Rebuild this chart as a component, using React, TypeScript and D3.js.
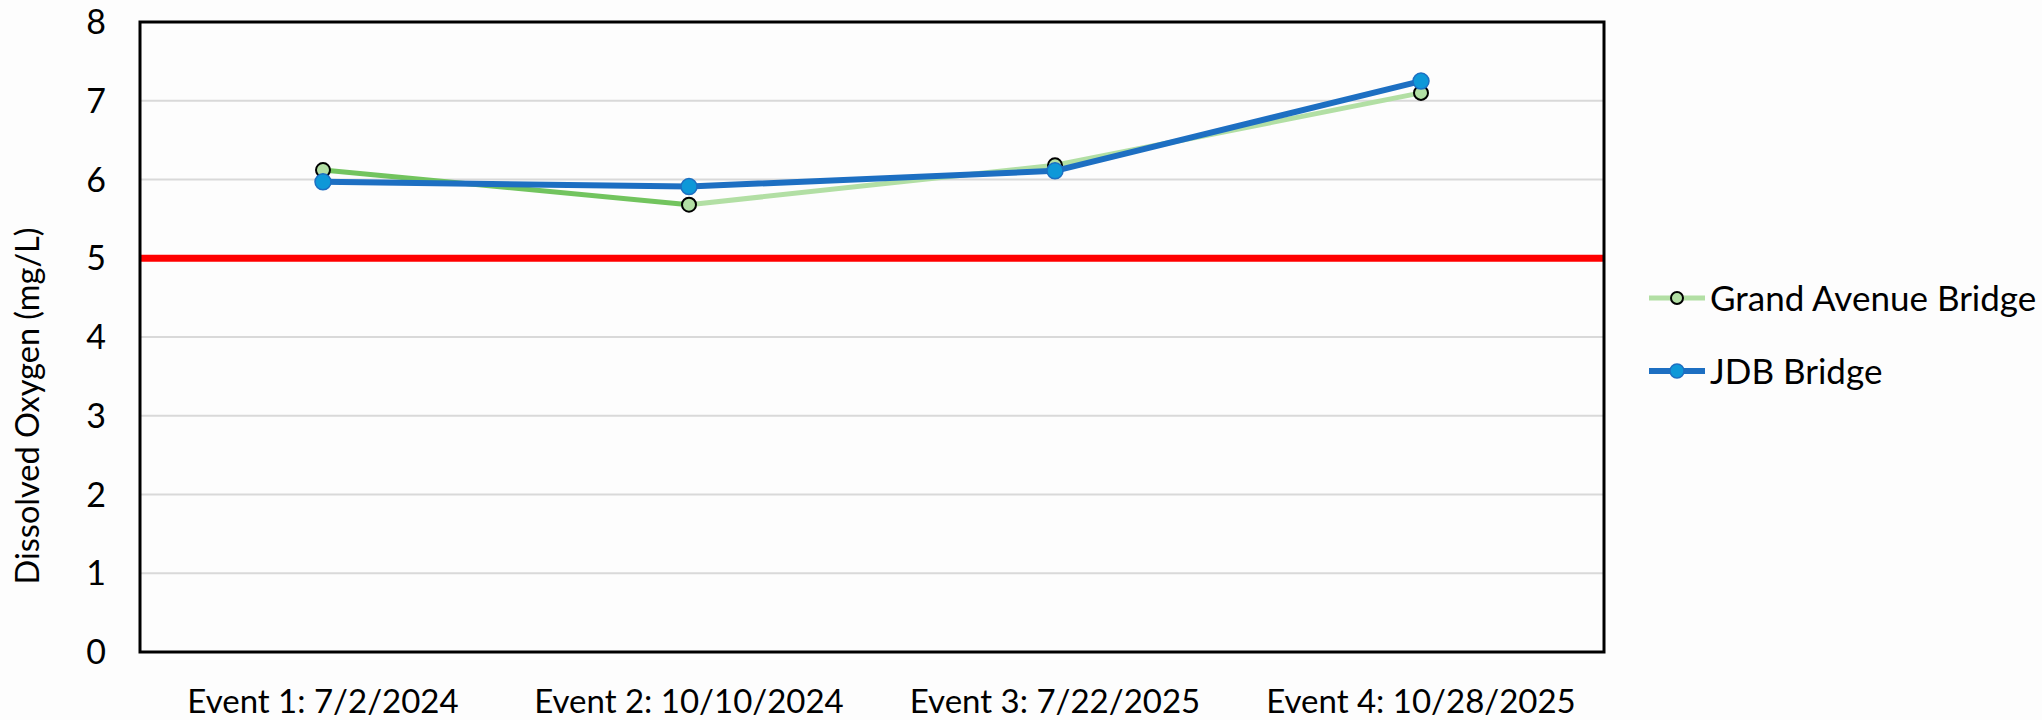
import React from "react"
import * as d3 from "d3"

// sampling events and measured DO (mg/L)
const events = ["Event 1: 7/2/2024", "Event 2: 10/10/2024", "Event 3: 7/22/2025", "Event 4: 10/28/2025"]
const grandAvenue = [6.12, 5.68, 6.18, 7.1]
const jdbBridge = [5.97, 5.91, 6.11, 7.25]
const yTicks = [0, 1, 2, 3, 4, 5, 6, 7, 8]
const standard = 5
const seriesNames = ["Grand Avenue Bridge", "JDB Bridge"]

const W = 2042
const H = 720
const margin = { top: 22, right: 438, bottom: 68, left: 140 }
const FONT = "Lato, 'Open Sans', sans-serif"

const greenLight = "#b2dfa4"
const greenDark = "#72c45e"
const blue = "#1d6fc2"
const blueFill = "#0e98d8"

export default function App() {
  const x = d3
    .scalePoint<string>()
    .domain(events)
    .range([margin.left, W - margin.right])
    .padding(0.5)
  const y = d3.scaleLinear().domain([0, 8]).range([H - margin.bottom, margin.top])

  const line = d3
    .line<number>()
    .x((_, i) => x(events[i]) as number)
    .y(d => y(d))

  // grand avenue segments, first segment drawn darker like the original
  const grandSegs = grandAvenue.slice(1).map((v, i) => {
    const a = x(events[i]) as number
    const b = x(events[i + 1]) as number
    return {
      d: d3.line<[number, number]>()([[a, y(grandAvenue[i])], [b, y(v)]]),
      color: i === 0 ? greenDark : greenLight
    }
  })

  const legendX = 1649
  const legendY = [298, 371]

  return (
    <svg width={W} height={H} style={{ position: "absolute", left: 0, top: 0, background: "#fdfdfd" }}>
      <rect x={0} y={0} width={W} height={H} fill="#fdfdfd" />
      {yTicks.slice(1, -1).map(t => (
        <line key={t} x1={margin.left} x2={W - margin.right} y1={y(t)} y2={y(t)} stroke="#d9d9d9" strokeWidth={2} />
      ))}
      <line x1={margin.left} x2={W - margin.right} y1={y(standard)} y2={y(standard)} stroke="#ff0000" strokeWidth={7} />
      {yTicks.map(t => (
        <text key={t} x={106} y={y(t)} dy="0.36em" textAnchor="end" fontFamily={FONT} fontSize={34} fill="#000">
          {t}
        </text>
      ))}
      {events.map(e => (
        <text key={e} x={x(e)} y={713} textAnchor="middle" fontFamily={FONT} fontSize={33} fill="#000">
          {e}
        </text>
      ))}
      <text
        transform={`translate(39,${406}) rotate(-90)`}
        textAnchor="middle"
        fontFamily={FONT}
        fontSize={32.5}
        fill="#000"
      >
        Dissolved Oxygen (mg/L)
      </text>

      {/* Grand Avenue Bridge */}
      {grandSegs.map((s, i) => (
        <path key={i} d={s.d || ""} fill="none" stroke={s.color} strokeWidth={5} strokeLinecap="round" />
      ))}
      {grandAvenue.map((v, i) => (
        <circle key={i} cx={x(events[i])} cy={y(v)} r={7} fill={greenLight} stroke="#000" strokeWidth={2} />
      ))}

      {/* JDB Bridge */}
      <path d={line(jdbBridge) || ""} fill="none" stroke={blue} strokeWidth={6} strokeLinejoin="round" />
      {jdbBridge.map((v, i) => (
        <circle key={i} cx={x(events[i])} cy={y(v)} r={8} fill={blueFill} stroke={blue} strokeWidth={1.5} />
      ))}

      <rect
        x={margin.left}
        y={margin.top}
        width={W - margin.right - margin.left}
        height={H - margin.bottom - margin.top}
        fill="none"
        stroke="#000"
        strokeWidth={3}
      />

      {/* legend */}
      <g>
        <line x1={legendX} x2={legendX + 56} y1={legendY[0]} y2={legendY[0]} stroke={greenLight} strokeWidth={5} />
        <circle cx={legendX + 28} cy={legendY[0]} r={6} fill={greenLight} stroke="#000" strokeWidth={2} />
        <text x={legendX + 61} y={legendY[0]} dy="0.36em" fontFamily={FONT} fontSize={35} fill="#000">
          {seriesNames[0]}
        </text>
        <line x1={legendX} x2={legendX + 56} y1={legendY[1]} y2={legendY[1]} stroke={blue} strokeWidth={6} />
        <circle cx={legendX + 28} cy={legendY[1]} r={7} fill={blueFill} stroke={blue} strokeWidth={1.5} />
        <text x={legendX + 61} y={legendY[1]} dy="0.36em" fontFamily={FONT} fontSize={35} fill="#000">
          {seriesNames[1]}
        </text>
      </g>
    </svg>
  )
}
